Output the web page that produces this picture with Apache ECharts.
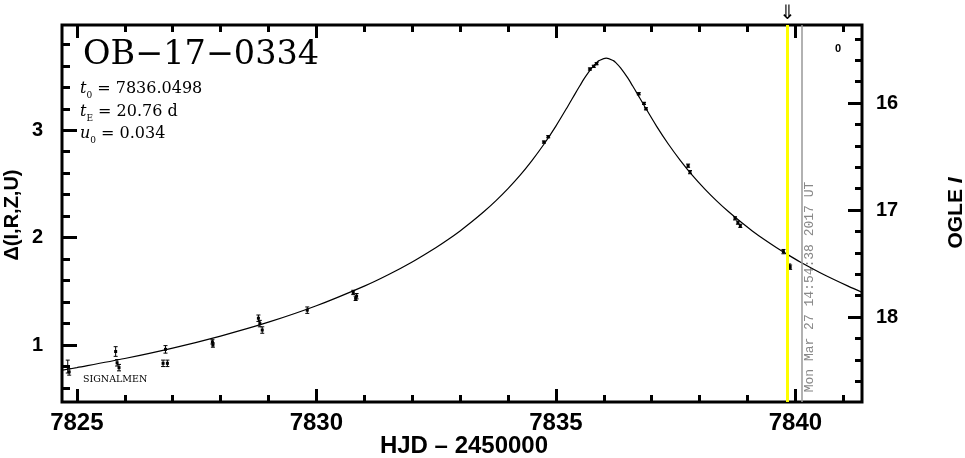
<!DOCTYPE html>
<html><head><meta charset="utf-8">
<script src="https://cdn.jsdelivr.net/npm/echarts@6/dist/echarts.min.js"></script>
<style>html,body{margin:0;padding:0;background:#fff}#c{width:965px;height:458px}</style>
</head><body><div id="c"></div>
<script>
// Model light curve (HJD-2450000, Δmag)
const modelT = [7824.7,7825,7826,7827,7828,7829,7830,7831,7831.5,7832,7832.5,7832.75,7833,7833.25,7833.5,7833.75,7834,7834.25,7834.5,7834.75,7835,7835.25,7835.4,7835.5,7835.6,7835.75,7835.85,7835.9,7836.05,7836.2,7836.25,7836.35,7836.5,7836.6,7836.7,7836.85,7837.1,7837.35,7837.6,7837.85,7838.1,7838.35,7838.6,7838.85,7839.1,7839.35,7839.6,7839.84,7840.1,7840.6,7841.1,7841.4];
const modelD = [0.766,0.790,0.875,0.972,1.084,1.213,1.366,1.549,1.655,1.774,1.909,1.983,2.063,2.150,2.243,2.345,2.457,2.580,2.718,2.870,3.039,3.224,3.339,3.414,3.487,3.581,3.630,3.648,3.672,3.648,3.630,3.581,3.487,3.414,3.339,3.224,3.039,2.870,2.718,2.580,2.457,2.345,2.243,2.150,2.063,1.983,1.909,1.842,1.774,1.655,1.549,1.490];
// Observations
const obsT = [7824.81,7824.84,7825.81,7825.84,7825.88,7826.85,7826.80,7826.89,7827.83,7827.84,7828.79,7828.82,7828.87,7829.81,7830.77,7830.84,7830.82,7834.75,7834.84,7835.71,7835.79,7835.85,7836.73,7836.84,7836.88,7837.76,7837.80,7838.74,7838.80,7838.85,7839.75,7839.87,7839.89];
const obsD = [0.80,0.75,0.94,0.835,0.79,0.96,0.83,0.83,1.03,1.00,1.25,1.20,1.14,1.325,1.49,1.455,1.435,2.89,2.94,3.57,3.595,3.62,3.34,3.25,3.20,2.67,2.61,2.18,2.14,2.11,1.87,1.735,1.725];
const obsErr = [0.06,0.03,0.045,0.03,0.03,0.035,0.03,0.03,0.02,0.02,0.03,0.03,0.03,0.03,0.02,0.025,0.02,0.01,0.01,0.01,0.01,0.01,0.01,0.01,0.01,0.015,0.015,0.015,0.015,0.015,0.02,0.02,0.02];
// Axes
const xMajorTicks = [7825,7830,7835,7840];
const xMinorTicks = [7826,7827,7828,7829,7831,7832,7833,7834,7836,7837,7838,7839,7841];
const yMajorTicks = [1,2,3];
const yMinorTicks = [0.6,0.8,1.2,1.4,1.6,1.8,2.2,2.4,2.6,2.8,3.2,3.4,3.6,3.8];
const magMajorTicks = [16,17,18];
const magMinorTicks = [15.4,15.6,15.8,16.2,16.4,16.6,16.8,17.2,17.4,17.6,17.8,18.2,18.4,18.6];
const alertT = 7839.84;
const nowT = 7840.14;
const eventName = 'OB\u221217\u22120334';
const params = [['t','0',' = 7836.0498'],['t','E',' = 20.76 d'],['u','0',' = 0.034']];
const dateText = 'Mon Mar 27 14:54:38 2017 UT';

const X_MIN = 7824.69, X_MAX = 7841.39, Y_MIN = 0.47, Y_MAX = 3.98, M_MIN = 15.271, M_MAX = 18.794;
const lbl = {fontFamily:'Liberation Sans', fontWeight:'bold', color:'#000', formatter:function(v){return String(v);}};
function xAx(pos, ticks, len, labels){
  return {type:'value', min:X_MIN, max:X_MAX, position:pos, axisLine:{show:false}, splitLine:{show:false},
    axisTick:{show:true, inside:true, length:len, customValues:ticks, lineStyle:{color:'#000', width:3}},
    axisLabel: labels ? Object.assign({show:true, customValues:ticks, fontSize:24, margin:9}, lbl) : {show:false}};
}
function yAx(pos, mn, mx, inv, ticks, len, labels, margin, fs){
  return {type:'value', min:mn, max:mx, inverse:inv, position:pos, axisLine:{show:false}, splitLine:{show:false},
    axisTick:{show:true, inside:true, length:len, customValues:ticks, lineStyle:{color:'#000', width:3}},
    axisLabel: labels ? Object.assign({show:true, customValues:ticks, fontSize:fs, margin:margin}, lbl) : {show:false}};
}
const chart = echarts.init(document.getElementById('c'), null, {renderer:'canvas'});
const paramText = params.map(p => '{it|' + p[0] + '}{sub|' + p[1] + '}{n|' + p[2] + '}').join('\n');
chart.setOption({
  animation:false,
  backgroundColor:'#fff',
  grid:{left:62, right:103, top:25, bottom:56, show:true, borderColor:'#000', borderWidth:3, backgroundColor:'transparent'},
  xAxis:[xAx('bottom', xMajorTicks, 13, true), xAx('bottom', xMinorTicks, 7, false), xAx('top', xMajorTicks, 13, false), xAx('top', xMinorTicks, 7, false)],
  yAxis:[yAx('left', Y_MIN, Y_MAX, false, yMajorTicks, 15, true, 19, 20), yAx('left', Y_MIN, Y_MAX, false, yMinorTicks, 8, false),
         yAx('right', M_MIN, M_MAX, true, magMajorTicks, 14, true, 14, 20), yAx('right', M_MIN, M_MAX, true, magMinorTicks, 7, false)],
  series:[
    {type:'line', data:[], z:1, silent:true,
     markLine:{symbol:'none', silent:true, animation:false,
       data:[
         {xAxis:alertT, lineStyle:{color:'#ffff00', width:3, type:'solid'},
          label:{show:true, position:'end', formatter:'\u21d3', fontSize:20, fontFamily:'DejaVu Sans', color:'#000', distance:1}},
         {xAxis:nowT, lineStyle:{color:'#999', width:1.5, type:'solid'}, label:{show:false}}
       ]}},
    {type:'line', data:modelT.map((t,i)=>[t, modelD[i]]), showSymbol:false, smooth:0.3, z:3,
     lineStyle:{color:'#000', width:1.2}},
    {type:'custom', z:4, data:obsT.map((t,i)=>[t, obsD[i], obsErr[i]]),
     renderItem:function(p, api){
       const t=api.value(0), d=api.value(1), e=api.value(2);
       const c=api.coord([t,d]), lo=api.coord([t,d-e]), hi=api.coord([t,d+e]);
       const s={stroke:'#000', lineWidth:1};
       return {type:'group', children:[
         {type:'line', shape:{x1:c[0],y1:lo[1],x2:c[0],y2:hi[1]}, style:s},
         {type:'line', shape:{x1:c[0]-2,y1:lo[1],x2:c[0]+2,y2:lo[1]}, style:s},
         {type:'line', shape:{x1:c[0]-2,y1:hi[1],x2:c[0]+2,y2:hi[1]}, style:s},
         {type:'rect', shape:{x:c[0]-1.5,y:c[1]-1.5,width:3,height:3}, style:{fill:'#000'}}
       ]};
     }}
  ],
  graphic:[
    {type:'text', left:83, top:38, style:{text:eventName, font:'33.5px "DejaVu Serif"', fill:'#000'}},
    {type:'text', left:80, top:81, style:{text:paramText, fill:'#000',
      rich:{it:{fontFamily:'DejaVu Serif', fontStyle:'italic', fontSize:16, lineHeight:22.5, verticalAlign:'middle'},
            sub:{fontFamily:'DejaVu Serif', fontSize:9, lineHeight:22.5, verticalAlign:'bottom'},
            n:{fontFamily:'DejaVu Serif', fontSize:16, lineHeight:22.5, verticalAlign:'middle'}}}},
    {type:'text', x:83, y:380, style:{text:'SIGNALMEN', font:'9.5px "DejaVu Serif"', fill:'#000', verticalAlign:'middle'}},
    {type:'text', x:838, y:49, style:{text:'0', font:'bold 11px "Liberation Sans"', fill:'#000', align:'center', verticalAlign:'middle'}},
    {type:'text', x:810, y:287, rotation:Math.PI/2, style:{text:dateText, font:'13px "Liberation Mono"', fill:'#888', align:'center', verticalAlign:'middle'}},
    {type:'text', x:464, y:446, style:{text:'HJD \u2013 2450000', font:'bold 24px "Liberation Sans"', fill:'#000', align:'center', verticalAlign:'middle'}},
    {type:'text', x:12, y:215, rotation:Math.PI/2, style:{text:'\u0394(I,R,Z,U)', font:'bold 20px "Liberation Sans"', fill:'#000', align:'center', verticalAlign:'middle'}},
    {type:'text', x:956, y:213, rotation:Math.PI/2, style:{text:'{a|OGLE }{b|I}', align:'center', verticalAlign:'middle', fill:'#000',
      rich:{a:{fontFamily:'Liberation Sans', fontWeight:'bold', fontSize:21}, b:{fontFamily:'Liberation Sans', fontWeight:'bold', fontStyle:'italic', fontSize:21}}}}
  ]
});
</script></body></html>
